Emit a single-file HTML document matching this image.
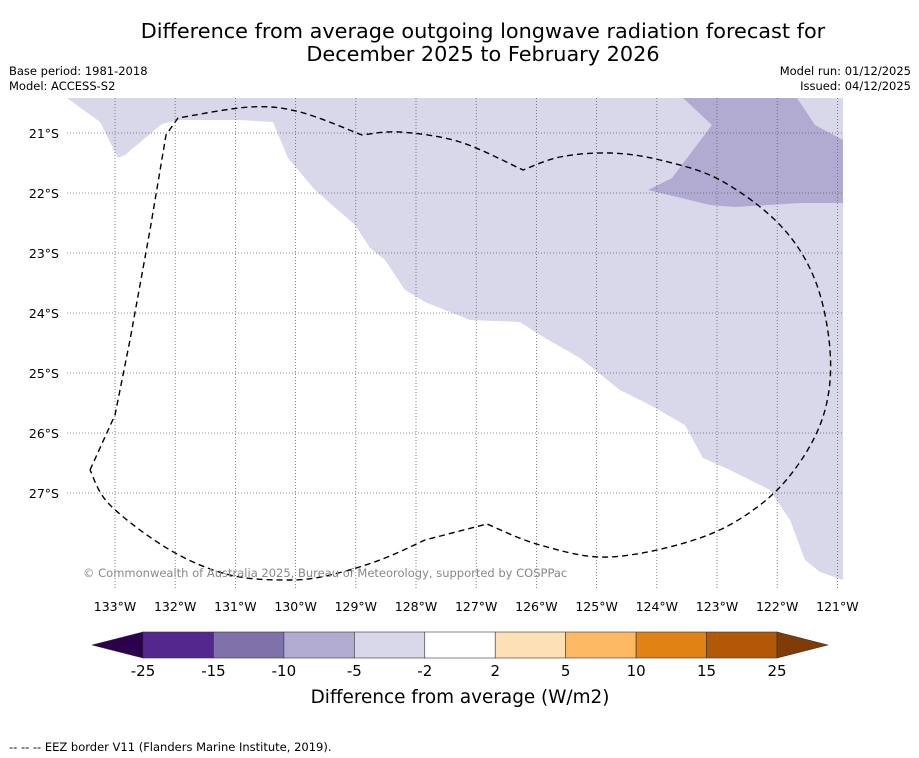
<!DOCTYPE html>
<html><head><meta charset="utf-8"><style>
body{margin:0;background:#fff;font-family:"DejaVu Sans","Liberation Sans",sans-serif;}
svg{display:block}
</style></head><body>
<svg id="chart" width="919" height="758" font-family="DejaVu Sans, Liberation Sans, sans-serif">
<rect width="919" height="758" fill="#fff"/>
<text x="483" y="38" font-size="20.8" text-anchor="middle">Difference from average outgoing longwave radiation forecast for</text>
<text x="483" y="61" font-size="20.8" text-anchor="middle">December 2025 to February 2026</text>
<text x="9" y="75" font-size="11.5">Base period: 1981-2018</text>
<text x="9" y="90" font-size="11.5">Model: ACCESS-S2</text>
<text x="911" y="75" font-size="11.5" text-anchor="end">Model run: 01/12/2025</text>
<text x="911" y="90" font-size="11.5" text-anchor="end">Issued: 04/12/2025</text>
<g id="map">
<polygon fill="#d8d8ea" points="67,98 100,122 118,158 125,155 162,124 178,120 240,120 273,122 288,158 315,190 355,225 370,248 385,260 405,290 425,302 470,320 520,322 540,335 580,358 620,390 650,405 685,425 703,458 730,470 770,490 790,520 805,560 820,572 843,580 843,98"/>
<polygon fill="#b1aad1" points="683,98 712,125 672,178 648,190 710,205 735,207 800,203 843,203 843,140 815,125 797,98"/>
<g id="grid"></g>
<path id="eez" fill="none" stroke="#000" stroke-width="1.4" stroke-dasharray="6,4"/>
<text x="83" y="577" font-size="11.5" fill="#888">© Commonwealth of Australia 2025, Bureau of Meteorology, supported by COSPPac</text>
</g>
<g id="axes"></g>
<g id="cbar"></g>
<text x="460" y="703" font-size="18.4" text-anchor="middle">Difference from average (W/m2)</text>
<text x="9" y="751" font-size="11.5">--  --  -- EEZ border V11 (Flanders Marine Institute, 2019).</text>
</svg>
<script>
const lonTicks=[133,132,131,130,129,128,127,126,125,124,123,122,121];
const latTicks=[21,22,23,24,25,26,27];
const levels=[-25,-15,-10,-5,-2,2,5,10,15,25];
const binColors=["#54278f","#7f72ab","#b1aad1","#d8d8ea","#ffffff","#fee0b6","#fdb863","#e08214","#b35806"];
const NS="http://www.w3.org/2000/svg";
function xLon(l){return 115+(133-l)*60.2;}
function yLat(l){return 133+(l-21)*60;}
function mk(t,a,p){const e=document.createElementNS(NS,t);for(const k in a)e.setAttribute(k,a[k]);p.appendChild(e);return e;}
// EEZ outline split into sharp-cornered segments, each smoothed
const eezSegs=[
 [[90,470],[115,415],[130,340],[150,230],[166,135],[178,118]],
 [[178,118],[250,107],[300,112],[362,135]],
 [[362,135],[400,132],[460,142],[523,170]],
 [[523,170],[560,157],[610,153],[660,160],[720,180],[780,225],[815,280],[830,350],[825,410],[800,462],[760,505],[700,538],[610,557],[540,545],[487,524]],
 [[487,524],[425,540]],
 [[425,540],[380,560],[330,575],[290,580],[230,575],[170,550],[110,505],[90,470]]];
(function(){let d='';
eezSegs.forEach((pts,si)=>{if(si===0)d+='M'+pts[0].join(',');const n=pts.length;
 for(let i=0;i<n-1;i++){const p0=pts[Math.max(i-1,0)],p1=pts[i],p2=pts[i+1],p3=pts[Math.min(i+2,n-1)];
  if(si===0){d+=' L'+p2.join(',');continue;}
  const c1=[p1[0]+(p2[0]-p0[0])/6,p1[1]+(p2[1]-p0[1])/6],c2=[p2[0]-(p3[0]-p1[0])/6,p2[1]-(p3[1]-p1[1])/6];
  d+=` C${c1} ${c2} ${p2}`;}});
document.getElementById('eez').setAttribute('d',d);})();
const grid=document.getElementById('grid'),axes=document.getElementById('axes');
lonTicks.forEach(l=>{const x=xLon(l);
 const g=mk('line',{x1:x,x2:x,y1:98,y2:590,stroke:'#666','stroke-width':0.8,'stroke-dasharray':'1,2'},grid);
 
 
 const t=mk('text',{x:x,y:611,'font-size':12.5,'text-anchor':'middle'},axes);t.textContent=l+'°W';
 
 });
latTicks.forEach(l=>{const y=yLat(l);
 const g=mk('line',{x1:67,x2:843,y1:y,y2:y,stroke:'#666','stroke-width':0.8,'stroke-dasharray':'1,2'},grid);
 
 
 const t=mk('text',{x:59,y:y+5,'font-size':12.5,'text-anchor':'end'},axes);t.textContent=l+'°S';
 
 });
const cb=document.getElementById('cbar');const x0=143,x1=777,yT=632,yB=658;
const w=(x1-x0)/binColors.length;
binColors.forEach((c,i)=>{const r=mk('rect',{x:x0+i*w,y:yT,width:w,height:yB-yT,fill:c,stroke:'#333','stroke-width':0.6},cb);
 
 });
const lt=mk('polygon',{points:`92,645 ${x0},${yT} ${x0},${yB}`,fill:'#2d004b',stroke:'#333','stroke-width':0.6},cb);


const rt=mk('polygon',{points:`828,645 ${x1},${yT} ${x1},${yB}`,fill:'#7f3b08',stroke:'#333','stroke-width':0.6},cb);


levels.forEach((v,i)=>{const t=mk('text',{x:x0+i*w,y:676,'font-size':15,'text-anchor':'middle'},cb);t.textContent=v;
 
 });
</script>
</body></html>
